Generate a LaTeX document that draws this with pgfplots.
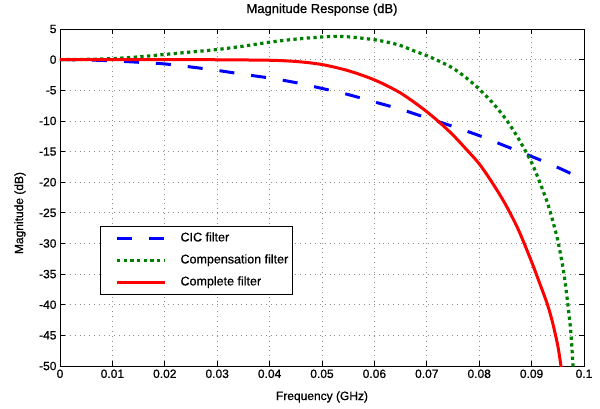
\documentclass[border=0pt]{standalone}
\usepackage{fontspec}
\setmainfont{Liberation Sans}[FakeBold=0.8]
\usepackage{pgfplots}
\pgfplotsset{compat=1.18}
\definecolor{mgreen}{RGB}{0,128,0}
\begin{document}
\begin{tikzpicture}
\begin{axis}[
  scale only axis, width=524pt, height=337pt,
  xmin=0, xmax=0.1, ymin=-50, ymax=5,
  xtick={0,0.01,0.02,0.03,0.04,0.05,0.06,0.07,0.08,0.09,0.1},
  ytick={-50,-45,-40,-35,-30,-25,-20,-15,-10,-5,0,5},
  scaled x ticks=false,
  xticklabel style={/pgf/number format/fixed,/pgf/number format/precision=2},
  /pgf/number format/assume math mode=true,
  ticklabel style={font=\fontsize{12}{14}\selectfont},
  grid=major,
  grid style={black!45, dash pattern=on 0.9pt off 4pt, line width=0.8pt},
  tick align=inside, major tick length=5pt,
  axis line style={black, line width=0.9pt},
  tick style={black, line width=0.8pt},
  title={Magnitude Response (dB)},
  title style={font=\fontsize{13}{15}\selectfont, at={(axis description cs:0.5,1)}, anchor=base, yshift=10pt},
  xlabel={Frequency (GHz)},
  xlabel style={font=\fontsize{12}{14}\selectfont, at={(axis description cs:0.5,-0.101)}, anchor=base},
  ylabel={Magnitude (dB)},
  ylabel style={font=\fontsize{12}{14}\selectfont, at={(axis description cs:-0.0763,0.454)}, anchor=center},
  legend cell align=left,
  legend image code/.code={\path (-11pt,0pt); \draw[#1] (0pt,0pt) -- (48pt,0pt);},
  legend style={at={(axis description cs:0.0763,0.4154)}, anchor=north west,
    draw=black, line width=0.8pt, fill=white,
    font=\fontsize{12.5}{14}\selectfont,
    inner xsep=4pt, inner ysep=6pt,
    nodes={inner sep=0pt, text height=9pt, text depth=2.5pt},
    row sep=10.5pt, column sep=14pt},
]
\addplot[blue, line width=3pt, dash pattern=on 15pt off 17pt, smooth] coordinates {
(0,0) (0.005,-0.05) (0.01,-0.2) (0.015,-0.43) (0.02,-0.7) (0.025,-1.2) (0.03,-1.75)
(0.035,-2.4) (0.04,-3.0) (0.045,-3.75) (0.05,-4.7) (0.055,-5.7) (0.06,-6.9)
(0.065,-8.1) (0.07,-9.5) (0.075,-10.9) (0.08,-12.4) (0.085,-14.1) (0.09,-15.8)
(0.095,-17.6) (0.1,-19.6)};
\addlegendentry{CIC filter}
\addplot[mgreen, line width=3.2pt, dash pattern=on 3.3pt off 3.4pt, smooth] coordinates {
(0,0) (0.005,0.05) (0.01,0.17) (0.015,0.45) (0.02,0.85) (0.025,1.25) (0.03,1.65)
(0.035,2.2) (0.04,2.85) (0.045,3.35) (0.05,3.7) (0.053,3.8) (0.056,3.65) (0.06,3.25)
(0.0625,2.85) (0.065,2.3) (0.0675,1.45) (0.07,0.65) (0.0725,-0.3) (0.075,-1.4)
(0.0775,-2.95) (0.08,-4.8) (0.0825,-7.0) (0.085,-9.6) (0.0875,-12.9) (0.09,-16.8)
(0.0915,-19.9) (0.093,-23.3) (0.094,-26.2) (0.095,-29.5) (0.096,-34.0) (0.0965,-37.0)
(0.097,-40.5) (0.0975,-44.6) (0.0979,-50) (0.0982,-54.5)};
\addlegendentry{Compensation filter}
\addplot[red, line width=3pt, smooth] coordinates {
(0,0) (0.01,0) (0.02,0) (0.025,0) (0.03,-0.02) (0.035,-0.05) (0.04,-0.1)
(0.0425,-0.17) (0.045,-0.3) (0.0475,-0.5) (0.05,-0.8) (0.0525,-1.25) (0.055,-1.8)
(0.0575,-2.5) (0.06,-3.3) (0.0625,-4.3) (0.065,-5.45) (0.0675,-6.9) (0.07,-8.5)
(0.0725,-10.3) (0.075,-12.3) (0.0775,-14.6) (0.08,-17.0) (0.0825,-20.1) (0.085,-23.6)
(0.0875,-27.8) (0.09,-33.0) (0.0915,-36.4) (0.093,-39.9) (0.094,-42.9) (0.095,-46.7)
(0.0956,-50) (0.0962,-54)};
\addlegendentry{Complete filter}
\end{axis}
\pgfresetboundingbox
\path (-60pt,-42pt) rectangle (540pt,366pt);
\end{tikzpicture}
\end{document}
